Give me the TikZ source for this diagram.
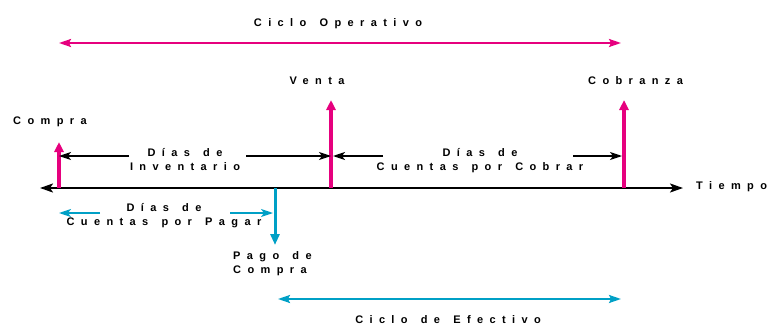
\documentclass[tikz,border=0pt]{standalone}
\usepackage{fontspec}
\newfontfamily\spacedfont[LetterSpace=58,WordSpace=1.4]{Liberation Sans}
\usetikzlibrary{arrows.meta}
\definecolor{ciclomag}{RGB}{230,0,126}
\definecolor{ciclocyan}{RGB}{0,160,198}
\tikzset{
  lbl/.style={font=\spacedfont\bfseries\fontsize{11}{14}\selectfont, align=center, inner sep=0pt},
  evento/.style={ciclomag, line width=3.5pt, -{Triangle[length=10pt,width=9pt]}},
  pago/.style={ciclocyan, line width=3pt, -{Triangle[length=11pt,width=9pt]}},
  dias/.style={line width=1.5pt, -{Stealth[length=12pt,width=8pt,inset=3pt]}},
  ciclo/.style={line width=2pt, {Stealth[length=12pt,width=8pt,inset=2pt]}-{Stealth[length=12pt,width=8pt,inset=2pt]}}
}
\begin{document}
\begin{tikzpicture}[x=1pt,y=-1pt]
\useasboundingbox (0,0) rectangle (771,324);
% Time line
\draw[line width=2pt, {Stealth[length=13pt,width=9pt,inset=3pt]}-{Stealth[length=13pt,width=9pt,inset=3pt]}]
  (40,188) coordinate (T0) -- (683,188) coordinate (T1);
\node[lbl, anchor=base west] (tiempo) at (696,189) {Tiempo};
% Events
\coordinate (Cb) at (59,188);   \coordinate (Ct) at (59,142);
\coordinate (Vb) at (331,188);  \coordinate (Vt) at (331,100);
\coordinate (Kb) at (624,188);  \coordinate (Kt) at (624,100);
\draw[evento] (Cb) -- (Ct);
\draw[evento] (Vb) -- (Vt);
\draw[evento] (Kb) -- (Kt);
\node[lbl, anchor=base west] (compra) at (13,124) {Compra};
\node[lbl, anchor=base] (venta) at (317,84) {Venta};
\node[lbl, anchor=base west] (cobranza) at (588,84) {Cobranza};
% Payment
\coordinate (Pb) at (275,188);  \coordinate (Pt) at (275,245);
\draw[pago] (Pb) -- (Pt);
\node[lbl, anchor=base west, align=left] (pagocompra) at (233,273) {Pago de\\Compra};
% Days of inventory
\coordinate (I1) at (129,156);  \coordinate (I2) at (246,156);
\draw[dias] (I1) -- (Ct |- I1);
\draw[dias] (I2) -- (Vt |- I2);
\node[lbl, anchor=base] (inventario) at (185,170) {Días de\\Inventario};
% Days receivable
\coordinate (R1) at (383,156);  \coordinate (R2) at (573,156);
\draw[dias] (R1) -- (333,156) coordinate (R0);
\draw[dias] (R2) -- (622,156) coordinate (R3);
\node[lbl, anchor=base] (cobrar) at (480,170) {Días de\\Cuentas por Cobrar};
% Days payable
\coordinate (A1) at (100,213);  \coordinate (A2) at (230,213);
\draw[dias, ciclocyan] (A1) -- (Ct |- A1);
\draw[dias, ciclocyan] (A2) -- (273,213) coordinate (A3);
\node[lbl, anchor=base] (pagar) at (164,225) {Días de\\Cuentas por Pagar};
% Cycles
\draw[ciclo, ciclomag] (59,43) coordinate (O1) -- (621,43) coordinate (O2);
\node[lbl, anchor=base] (operativo) at (338,26) {Ciclo Operativo};
\draw[ciclo, ciclocyan] (278,299) coordinate (E1) -- (621,299) coordinate (E2);
\node[lbl, anchor=base] (efectivo) at (448,323) {Ciclo de Efectivo};
\end{tikzpicture}
\end{document}
